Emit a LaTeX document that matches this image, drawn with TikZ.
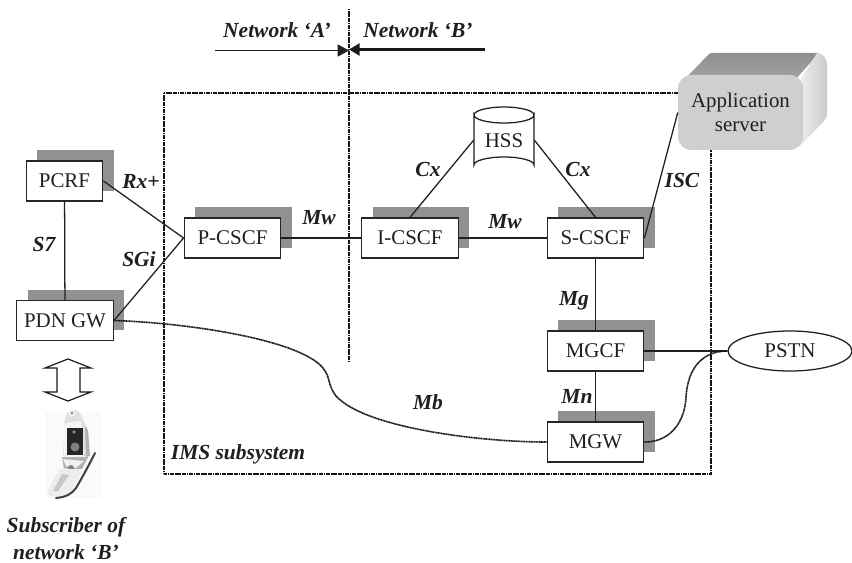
\documentclass[tikz,border=0pt]{standalone}
\usepackage{fontspec}
\setmainfont{Liberation Serif}
\usetikzlibrary{arrows.meta,shapes.geometric}
\definecolor{shadowgray}{gray}{0.57}
\tikzset{
  x=0.75pt,y=-0.75pt,
  every node/.style={font=\fontsize{15.7}{18}\selectfont,text=black!88},
  netbox/.style={draw=black!85,line width=0.95pt,fill=white,minimum width=72.5pt,minimum height=30pt,inner sep=0pt},
  shadowbox/.style={fill=shadowgray,draw=none,minimum width=72.5pt,minimum height=30.5pt,inner sep=0pt},
  narrowbox/.style={minimum width=57.5pt},
  iface/.style={font=\fontsize{16.1}{18}\selectfont\bfseries\itshape,inner sep=0pt},
  link/.style={draw=black!88,line width=0.95pt},
  dotline/.style={draw=black!92,line width=1.5pt,dash pattern=on 1pt off 0.3pt},
  dotcurve/.style={draw=black!92,line width=1.2pt,dash pattern=on 0.9pt off 0.35pt},
}
\newcommand{\ubox}[5][]{%
  \node[shadowbox,#1] at (#4+11,#5-10.5) {};
  \node[netbox,#1] (#2) at (#4,#5) {#3};
}
\begin{document}
\begin{tikzpicture}
\useasboundingbox (0,0) rectangle (852,563);
\fill[white] (0,0) rectangle (852,563);

% named ends of the free lines
\coordinate (netTop) at (349,9);
\coordinate (netBot) at (349,362);
\coordinate (borderL) at (215,50.5);
\coordinate (borderR) at (485,49.5);
\coordinate (imsA) at (164,93);
\coordinate (imsB) at (711,474);

% IMS border and network split
\draw[dotline] (imsA) rectangle (imsB);
\draw[dotline] (netTop) -- (netBot);

% boxes
\ubox[narrowbox]{pcrf}{PCRF}{64.5}{181}
\ubox{pdn}{PDN GW}{65}{320.5}
\ubox{pcscf}{P-CSCF}{232.5}{238}
\ubox{icscf}{I-CSCF}{410}{238}
\ubox{scscf}{S-CSCF}{595.5}{238}
\ubox{mgcf}{MGCF}{595.5}{351}
\ubox{mgw}{MGW}{595.5}{442}

% HSS cylinder
\node[minimum width=45pt,minimum height=49.5pt,inner sep=0pt] (hss) at (504,140) {};
\draw[draw=black!88,line width=0.95pt,fill=white]
  (474,115) -- (474,165) arc[start angle=180,end angle=360,x radius=30,y radius=8]
  -- (534,115) arc[start angle=0,end angle=180,x radius=30,y radius=8] -- cycle;
\draw[draw=black!88,line width=0.95pt] (474,115) arc[start angle=180,end angle=360,x radius=30,y radius=8];
\node at (504,141) {HSS};

% PSTN
\node[ellipse,draw=black!88,line width=0.95pt,fill=white,minimum width=93pt,minimum height=30pt,inner sep=0pt] (pstn) at (790,351) {PSTN};

% connectors
\draw[link] (pcrf) -- (pdn);
\draw[link] (pcrf.east) -- (pcscf.west);
\draw[link] (pdn.east) -- (pcscf.west);
\draw[link] (pcscf) -- (icscf);
\draw[link] (icscf) -- (scscf);
\draw[link] (hss.west) -- (icscf.north);
\draw[link] (hss.east) -- (scscf.north);
\draw[link] (scscf) -- (mgcf);
\draw[link] (mgcf) -- (mgw);
\draw[link] (mgcf.east) -- (pstn.west);

% dotted media paths
\draw[dotcurve] (pdn.east) .. controls (190,323) and (300,340) .. (323,368)
  .. controls (331,378) and (327,384) .. (336,396)
  .. controls (365,428) and (480,442) .. (mgw.west);
\draw[dotcurve] (mgw.east) .. controls (672,442) and (685,420) .. (686,397)
  .. controls (688,365) and (705,351) .. (pstn.west);

% application server
\shade[top color=black!44,bottom color=black!36] (684,80) -- (707,56) .. controls (708,54) and (710,53) .. (714,53)
  -- (819,53) -- (795,80) -- cycle;
\shade[left color=black!7,right color=black!20] (800,80) -- (817,53)
  .. controls (823,53) and (827,58) .. (827,66) -- (827,113) .. controls (827,117) and (826,119) .. (824,121)
  -- (800,146) -- cycle;
\node[rounded corners=10pt,fill=black!19,draw=none,minimum width=93.75pt,minimum height=56.25pt,inner sep=0pt,
  align=center] (app) at (740.5,112.5) {Application\\server};
\draw[link] (scscf.east) -- (app.west);

% network arrows
\draw[link,-{Triangle[length=8.5pt,width=9pt]}] (borderL) -- (netTop |- borderL);
\draw[draw=black!90,line width=1.8pt,-{Triangle[length=8pt,width=9pt]}] (borderR) -- (netTop |- borderR);

% labels
\node[iface] at (277,30) {Network ‘A’};
\node[iface] at (418,30) {Network ‘B’};
\node[iface] at (141,181) {Rx+};
\node[iface] at (44,244) {S7};
\node[iface] at (139,259) {SGi};
\node[iface] at (319,218) {Mw};
\node[iface] at (505,222) {Mw};
\node[iface] at (428,169) {Cx};
\node[iface] at (578,169) {Cx};
\node[iface] at (682,180) {ISC};
\node[iface] at (574,301) {Mg};
\node[iface] at (577,396) {Mn};
\node[iface] at (428,402) {Mb};
\node[iface] at (238,454) {IMS subsystem};
\node[iface] at (66,527) {Subscriber of};
\node[iface] at (66,552) {network ‘B’};

% double arrow
\draw[draw=black!90,line width=0.9pt,fill=white]
  (68,359) -- (91,368) -- (80,368) -- (80,392) -- (91,392) -- (68,401)
  -- (45,392) -- (57,392) -- (57,368) -- (45,368) -- cycle;

% handset
\fill[black!2] (45,412) rectangle (101,498);
\fill[black!12,rounded corners=3pt] (65,416) -- (71,409) -- (79,411) -- (87,428) -- (89,456) -- (63,458) -- cycle;
\fill[black!4,rounded corners=2pt] (63,424) -- (81,420) -- (84,456) -- (64,458) -- cycle;
\fill[black!30] (85,426) -- (88,430) -- (90,456) -- (86,457) -- cycle;
\fill[black!6] (72,413) circle (3.6);
\fill[black!50] (72,413) circle (1.3);
\fill[black!85] (67,428) rectangle (83,455);
\fill[black!50] (75,447) circle (4.5);
\fill[black!45] (74,432) circle (1.8);
\fill[black!30] (62,457) -- (88,457) -- (82,469) -- (64,469) -- cycle;
\fill[black!6] (63,459) -- (84,461) -- (76,468) -- (66,466) -- cycle;
\fill[black!50] (71,468) circle (3);
\fill[black!7,rounded corners=2pt] (60,468) -- (82,470) -- (71,494) -- (50,497) -- (47,492) -- cycle;
\fill[black!22] (62,474) -- (69,475) -- (58,491) -- (53,491) -- cycle;
\draw[black!75,line width=1.5pt,line cap=round] (95,453) .. controls (90,463) and (82,478) .. (76,488) .. controls (72,494) and (66,497) .. (56,498);
\end{tikzpicture}
\end{document}
